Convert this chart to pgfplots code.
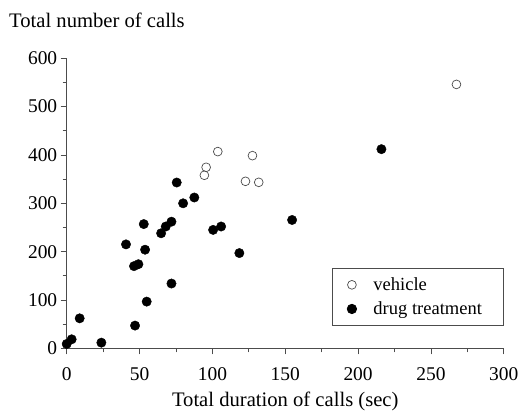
\documentclass[border=0pt]{standalone}
\usepackage{pgfplots}
\pgfplotsset{compat=1.18}
\usepackage{fontspec}
\setmainfont{Liberation Serif}
\begin{document}
\begin{tikzpicture}
\path[use as bounding box] (-66.7bp,-63.7bp) rectangle (453.3bp,348.3bp);
\begin{axis}[
  scale only axis,
  width=437.1bp, height=290bp,
  xmin=0, xmax=300, ymin=0, ymax=600,
  axis x line*=bottom, axis y line*=left,
  axis line style={line width=0.9pt, black!70},
  tick align=outside,
  xtick={0,50,...,300}, ytick={0,100,...,600},
  minor xtick={25,75,...,275}, minor ytick={50,150,...,550},
  major tick length=6bp, minor tick length=4bp,
  every tick/.style={line width=0.9pt, black!70},
  tick label style={font=\fontsize{19.5}{22}\selectfont},
  xticklabel style={yshift=-10bp},
  /pgf/number format/assume math mode=true,
  xlabel={Total duration of calls (sec)},
  xlabel style={font=\fontsize{20.7}{23}\selectfont, at={(axis description cs:0.5,0)}, anchor=base, yshift=-58.4bp},
  clip=false,
  legend style={at={(1.0,0.276)}, anchor=north east, draw=black!70, line width=0.8pt,
    font=\fontsize{18.6}{21}\selectfont, row sep=5.8bp, inner xsep=3bp, inner ysep=7bp},
  legend cell align=left,
  legend image code/.code={\path[draw=none,fill=none] (0bp,0bp) -- (36bp,0bp); \draw[#1] plot coordinates {(16.5bp,0bp)};},
]
\addplot[only marks, mark=o, mark size=4.4bp, mark options={draw=black!70, line width=0.7pt}] coordinates {
(267.5,546) (103.7,407) (95.7,374.5) (94.5,358) (127.5,398.6) (122.7,345.5) (131.8,343.4)
};
\addlegendentry{\makebox[125bp][l]{vehicle}}
\addplot[only marks, mark=*, mark size=4.7bp, mark options={fill=black, draw=black}] coordinates {
(0,9) (3.4,18.6) (8.9,62) (23.8,11.7) (40.7,215) (46.2,170) (49.2,174) (46.9,47)
(52.9,257) (53.8,204) (54.9,96.6) (64.8,238) (68,252) (71.9,262) (71.9,134)
(75.5,343) (79.9,300) (87.6,312) (100.5,245) (106,252) (118.5,197) (154.7,265.5) (216,412)
};
\addlegendentry{\makebox[125bp][l]{drug treatment}}
\end{axis}
\node[anchor=base west, font=\fontsize{20.7}{23}\selectfont, inner sep=0pt] at (-57.7bp,320.6bp) {Total number of calls};
\end{tikzpicture}
\end{document}
